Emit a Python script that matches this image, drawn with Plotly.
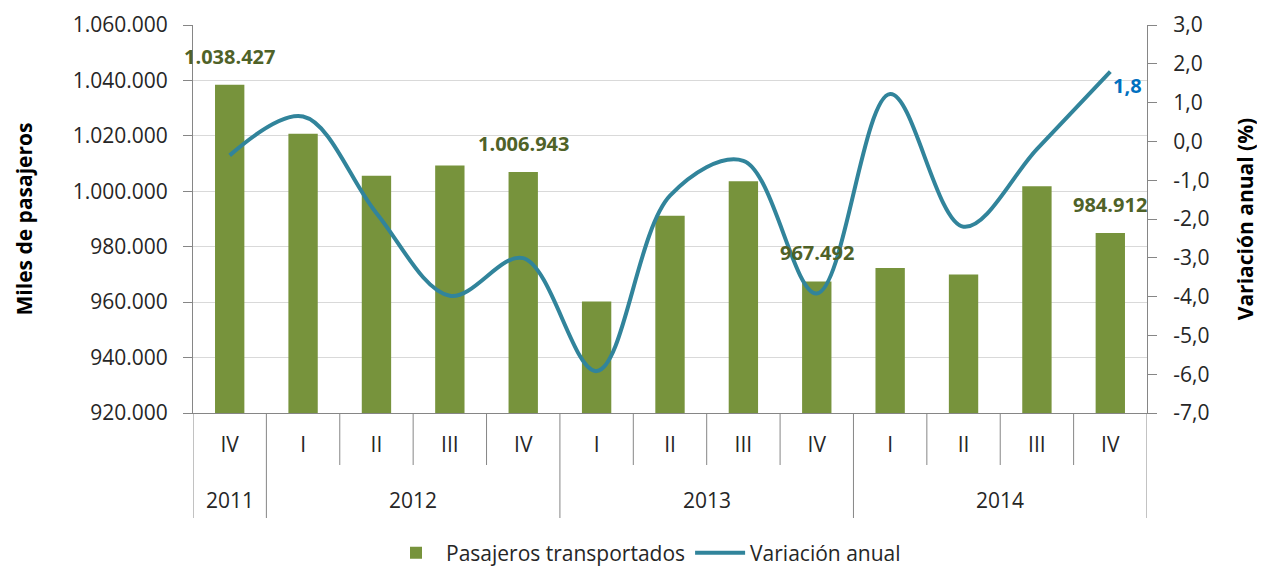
import plotly.graph_objects as go

# ---------------- data ----------------
years = ["2011", "2012", "2012", "2012", "2012", "2013", "2013", "2013", "2013",
         "2014", "2014", "2014", "2014"]
quarters = ["IV", "I", "II", "III", "IV", "I", "II", "III", "IV",
            "I", "II", "III", "IV"]
pasajeros = [1038427, 1020800, 1005600, 1009300, 1006943, 960200, 991200,
             1003600, 967492, 972300, 970000, 1001800, 984912]
variacion = [-0.36, 0.64, -1.85, -3.98, -3.01, -5.92, -1.4, -0.5, -3.92,
             1.22, -2.2, -0.2, 1.8]
labelled_bars = [0, 4, 8, 12]          # bars whose value is written above
left_ticks = [920000, 940000, 960000, 980000, 1000000, 1020000, 1040000, 1060000]
right_ticks = [-7, -6, -5, -4, -3, -2, -1, 0, 1, 2, 3]

# ---------------- styles ----------------
FONT = "Open Sans"
GREEN = "#77933C"
DARK_GREEN = "#4F6228"
TEAL = "#31849B"
BLUE = "#0070C0"
AXIS = "#868686"
GRID = "#D9D9D9"
TXT = "#262626"
FS = 21
# the page body has an 8px default margin, so the figure is 8px smaller
W, H = 1257, 559
M = dict(l=185, r=118, t=17, b=154)
PLOT_H = H - M["t"] - M["b"]


def fmt_int(v):
    return f"{v:,}".replace(",", ".")


def fmt_dec(v):
    return f"{v:.1f}".replace(".", ",")


# one unique category per period; quarter shown as tick text, year as group label
cats = [f"{y}-{q}" for y, q in zip(years, quarters)]

fig = go.Figure()
fig.add_trace(go.Bar(
    x=cats, y=pasajeros, name="Pasajeros transportados",
    marker=dict(color=GREEN, line=dict(width=0)), width=0.4,
))
fig.add_trace(go.Scatter(
    x=cats, y=variacion, name="Variación anual", yaxis="y2",
    mode="lines", line=dict(color=TEAL, width=4, shape="spline", smoothing=1.0),
))

annotations = []
for i in labelled_bars:
    annotations.append(dict(
        x=cats[i], y=pasajeros[i], xref="x", yref="y",
        text=f"<b>{fmt_int(pasajeros[i])}</b>",
        showarrow=False, yanchor="bottom", yshift=13,
        font=dict(family=FONT, size=FS - 1, color=DARK_GREEN),
    ))
last = len(variacion) - 1
annotations.append(dict(
    x=cats[last], y=variacion[last], xref="x", yref="y2",
    text=f"<b>{fmt_dec(variacion[last])}</b>", showarrow=False,
    xanchor="left", yanchor="middle", xshift=1, yshift=-14,
    font=dict(family=FONT, size=FS - 1, color=BLUE),
))

# year group labels and separators
shapes = []
QSEP = -52 / PLOT_H
YSEP = -105 / PLOT_H
YEAR_Y = -87 / PLOT_H
groups = []
for i, y in enumerate(years):
    if not groups or groups[-1][0] != y:
        groups.append([y, i, i])
    else:
        groups[-1][2] = i
for y, a, b in groups:
    annotations.append(dict(
        x=(a + b) / 2, y=YEAR_Y, xref="x", yref="paper", text=y, showarrow=False,
        yanchor="middle", font=dict(family=FONT, size=FS, color=TXT),
    ))
    shapes.append(dict(type="line", xref="x", yref="paper", x0=a - 0.5, x1=a - 0.5,
                       y0=0, y1=YSEP, line=dict(color=AXIS, width=1)))
    for k in range(a + 1, b + 1):
        shapes.append(dict(type="line", xref="x", yref="paper", x0=k - 0.5, x1=k - 0.5,
                           y0=0, y1=QSEP, line=dict(color=AXIS, width=1)))
shapes.append(dict(type="line", xref="x", yref="paper",
                   x0=len(cats) - 0.5, x1=len(cats) - 0.5,
                   y0=0, y1=YSEP, line=dict(color=AXIS, width=1)))

fig.update_layout(
    width=W, height=H,
    margin=M,
    paper_bgcolor="white", plot_bgcolor="white",
    font=dict(family=FONT, size=FS, color=TXT),
    separators=",.",
    bargap=0.6,
    showlegend=True,
    legend=dict(orientation="h", x=(646 - 8) / W, xref="container", xanchor="center",
                y=(H - (553 - 8)) / H, yref="container", yanchor="middle",
                font=dict(family=FONT, size=FS, color=TXT), itemwidth=50),
    xaxis=dict(
        type="category", range=[-0.5, len(cats) - 0.5],
        showline=True, linecolor=AXIS, linewidth=1,
        tickvals=cats, ticktext=quarters, ticks="",
        ticklabelstandoff=13, automargin=False,
        tickfont=dict(family=FONT, size=FS, color=TXT), showgrid=False,
    ),
    yaxis=dict(
        range=[920000, 1060000], tickvals=left_ticks,
        ticktext=[fmt_int(v) for v in left_ticks],
        showgrid=True, gridcolor=GRID, gridwidth=1,
        showline=True, linecolor=AXIS, ticks="outside", ticklen=9, tickcolor=AXIS,
        ticklabelstandoff=11, automargin=False,
        tickfont=dict(family=FONT, size=FS, color=TXT), zeroline=False,
        title=dict(text="<b>Miles de pasajeros</b>", standoff=34,
                   font=dict(family=FONT, size=FS, color="black")),
    ),
    yaxis2=dict(
        overlaying="y", side="right", range=[-7, 3], tickvals=right_ticks,
        ticktext=[fmt_dec(v) for v in right_ticks],
        showgrid=False, showline=True, linecolor=AXIS, ticks="outside", ticklen=9,
        tickcolor=AXIS, zeroline=False, ticklabelstandoff=12, automargin=False,
        tickfont=dict(family=FONT, size=FS, color=TXT),
        title=dict(text="<b>Variación anual (%)</b>", standoff=29,
                   font=dict(family=FONT, size=FS, color="black")),
    ),
    annotations=annotations,
    shapes=shapes,
)

fig.write_html("out.html")
